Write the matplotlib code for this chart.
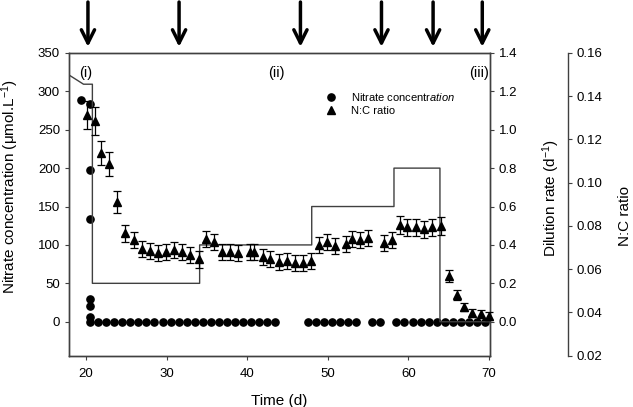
#!/usr/bin/env python3

import matplotlib
matplotlib.use('Agg')
from matplotlib import pyplot as plt
from matplotlib.lines import Line2D

############## DATA ################

# N:C ratio (triangles, with error bars)
nc_time = [20.1, 21.1, 21.9, 22.9, 23.9, 24.9, 25.9, 26.9, 27.9, 28.9,
           29.9, 30.9, 31.9, 32.9, 34.0, 34.9, 35.9, 36.9, 37.9, 38.9,
           40.3, 40.9, 41.9, 42.8, 43.9, 44.9, 45.9, 46.9, 47.9, 48.9,
           49.9, 50.9, 52.2, 53.0, 54.0, 55.0, 57.0, 57.9, 58.9, 59.8,
           60.9, 61.9, 62.9, 64.0, 65.0, 66.0, 66.9, 67.9, 69.0, 70.0]
nc_ratio = [0.1313, 0.1287, 0.1139, 0.1087, 0.0911, 0.0766, 0.0735, 0.0692, 0.0686, 0.0676,
            0.0681, 0.0689, 0.0681, 0.0666, 0.0646, 0.0738, 0.0727, 0.0681, 0.0681, 0.0674,
            0.0681, 0.0681, 0.0655, 0.0646, 0.0635, 0.0639, 0.0627, 0.0630, 0.0636, 0.0714,
            0.0727, 0.0709, 0.0715, 0.0738, 0.0735, 0.0746, 0.0720, 0.0735, 0.0804, 0.0794,
            0.0794, 0.0785, 0.0794, 0.0800, 0.0569, 0.0481, 0.0427, 0.0396, 0.0393, 0.0384]
nc_err = [0.0065, 0.0065, 0.0055, 0.0055, 0.0050, 0.0038, 0.0037, 0.0037, 0.0037, 0.0037,
          0.0037, 0.0037, 0.0037, 0.0037, 0.0040, 0.0037, 0.0037, 0.0037, 0.0037, 0.0037,
          0.0037, 0.0037, 0.0037, 0.0037, 0.0037, 0.0037, 0.0037, 0.0037, 0.0037, 0.0037,
          0.0037, 0.0037, 0.0037, 0.0037, 0.0037, 0.0037, 0.0037, 0.0037, 0.0040, 0.0040,
          0.0040, 0.0040, 0.0040, 0.0040, 0.0026, 0.0023, 0.0018, 0.0018, 0.0018, 0.0018]

# Nitrate concentration (dots)
no3_time = [19.4, 20.45, 20.45, 20.45, 20.45, 20.45, 20.45, 20.45,
            21.5, 22.5, 23.5, 24.5, 25.5, 26.5, 27.5, 28.5, 29.5, 30.5, 31.5, 32.5,
            33.5, 34.5, 35.5, 36.5, 37.5, 38.5, 39.5, 40.5, 41.5, 42.5, 43.5,
            47.5, 48.5, 49.5, 50.5, 51.5, 52.5, 53.5,
            55.5, 56.5,
            58.5, 59.5, 60.5, 61.5, 62.5, 63.5, 64.5, 65.5, 66.5, 67.5, 68.5, 69.5]
nitrate = [289, 283, 197, 134, 29, 20, 6, 0,
           0, 0, 0, 0, 0, 0, 0, 0, 0, 0, 0, 0,
           0, 0, 0, 0, 0, 0, 0, 0, 0, 0, 0,
           0, 0, 0, 0, 0, 0, 0,
           0, 0,
           0, 0, 0, 0, 0, 0, 0, 0, 0, 0, 0, 0]

# Dilution rate (step line)
dil_time = [17.9, 19.7, 20.8, 20.8, 34.1, 34.1, 48.0, 48.0, 58.2, 58.2, 63.9, 63.9, 70.0]
dil_rate = [1.285, 1.237, 1.237, 0.2, 0.2, 0.4, 0.4, 0.6, 0.6, 0.8, 0.8, 0.0, 0.0]

# Sampling arrows above the plot
arrow_days = [20.25, 31.55, 46.6, 56.65, 63.05, 69.15]

phase_labels = ['(i)', '(ii)', '(iii)']
phase_days = [20.0, 43.6, 68.7]

############## PLOT ################

plt.rcParams['font.family'] = ['Liberation Sans', 'DejaVu Sans']
plt.rcParams['mathtext.fontset'] = 'custom'
plt.rcParams['mathtext.rm'] = 'Liberation Sans'
plt.rcParams['mathtext.it'] = 'Liberation Sans:italic'
plt.rcParams['font.size'] = 9.5

spine_color = '#404040'

fig = plt.figure(figsize=(6.33, 4.07), dpi=100)
ax = fig.add_axes([0.109, 0.126, 0.665, 0.744])
ax_dil = ax.twinx()
ax_nc = ax.twinx()
ax_nc.spines['right'].set_position(('axes', 1.1846))

for a in (ax, ax_dil, ax_nc):
    for s in a.spines.values():
        s.set_color(spine_color)
        s.set_linewidth(1.0)
    a.tick_params(direction='out', length=3, color=spine_color, labelsize=9.5)
ax.tick_params(axis='x', pad=6)
ax_nc.spines['top'].set_visible(False)
ax_nc.spines['left'].set_visible(False)
ax_nc.spines['bottom'].set_visible(False)

ax_dil.plot(dil_time, dil_rate, color=spine_color, linewidth=1.0, zorder=1)

ax.plot(no3_time, nitrate, linestyle='none', marker='o', markersize=5.2,
        color='black', clip_on=False, zorder=3)

ax_nc.errorbar(nc_time, nc_ratio, yerr=nc_err, linestyle='none', marker='^',
               markersize=5.5, color='black', ecolor='black', elinewidth=0.9,
               capsize=3, capthick=0.9, clip_on=False, zorder=3)

ax.set_xlim(17.9, 70.1)
ax.set_xticks([20, 30, 40, 50, 60, 70])
ax.set_ylim(-44.3, 350)
ax.set_yticks([0, 50, 100, 150, 200, 250, 300, 350])
ax_dil.set_ylim(-0.177, 1.4)
ax_dil.set_yticks([0.0, 0.2, 0.4, 0.6, 0.8, 1.0, 1.2, 1.4])
ax_dil.set_yticklabels(['{:.1f}'.format(v) for v in ax_dil.get_yticks()])
ax_nc.set_ylim(0.02, 0.16)
ax_nc.set_yticks([0.02, 0.04, 0.06, 0.08, 0.10, 0.12, 0.14, 0.16])
ax_nc.set_yticklabels(['{:.2f}'.format(v) for v in ax_nc.get_yticks()])

ax.set_xlabel('Time (d)', fontsize=11, labelpad=10)
ax.set_ylabel(r'Nitrate concentration ($\mathrm{\mu}$mol.L$^{-1}$)', fontsize=11)
ax.yaxis.set_label_coords(-0.114, 0.56)
ax_dil.set_ylabel(r'Dilution rate (d$^{-1}$)', fontsize=11)
ax_dil.yaxis.set_label_coords(1.12, 0.52)
ax_nc.set_ylabel('N:C ratio', fontsize=11)
ax_nc.yaxis.set_label_coords(1.305, 0.46)

for lab, d in zip(phase_labels, phase_days):
    ax.text(d, 0.935, lab, transform=ax.get_xaxis_transform(), ha='center',
            va='center', fontsize=10.5)

for d in arrow_days:
    ax.annotate('', xy=(d, 1.02), xytext=(d, 1.168),
                xycoords=ax.get_xaxis_transform(), textcoords=ax.get_xaxis_transform(),
                arrowprops=dict(arrowstyle='->,head_length=1.0,head_width=0.5',
                                lw=2.5, color='black', shrinkA=0, shrinkB=0))

handles = [Line2D([], [], linestyle='none', marker='o', markersize=5.2, color='black'),
           Line2D([], [], linestyle='none', marker='^', markersize=5.5, color='black')]
labels = [r'Nitrate concentr$\mathit{ation}$', 'N:C ratio']
ax.legend(handles, labels, loc='upper left', bbox_to_anchor=(0.585, 0.89),
          frameon=False, fontsize=8, handletextpad=0.8, labelspacing=0.3,
          borderaxespad=0)

plt.savefig('out.png', dpi=100)
plt.close()
